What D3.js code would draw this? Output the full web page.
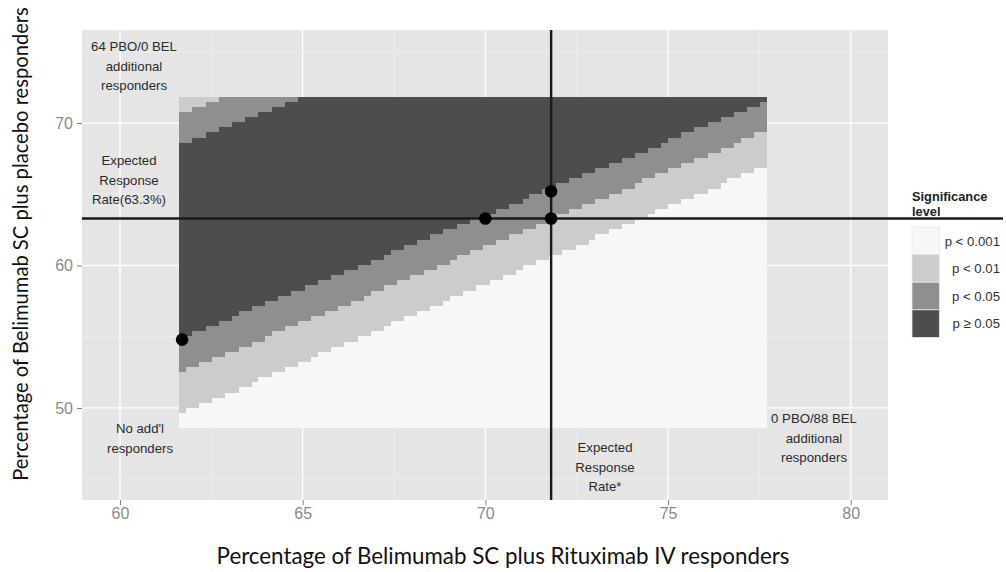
<!DOCTYPE html>
<html><head><meta charset="utf-8">
<script src="https://cdn.jsdelivr.net/npm/d3@7"></script>
<style>body{margin:0;background:#fff}svg{display:block}</style>
</head><body><svg id="c" width="1006" height="572"></svg>
<script>
// ---------- data ----------
const xTicks = [60, 65, 70, 75, 80];
const xMinor = [62.5, 67.5, 72.5, 77.5];
const yTicks = [50, 60, 70];
const yMinor = [45, 55, 65, 75];
const levels = ["p < 0.001", "p < 0.01", "p < 0.05", "p \u2265 0.05"];
const levelColors = ["#f7f7f7", "#cccccc", "#8f8f8f", "#4d4d4d"];

const belAddMax = 88;      // 0 PBO/88 BEL additional responders
const pboAddMax = 64;      // 64 PBO/0 BEL additional responders
const belBase = 61.71, belStep = 0.1808;   // % BEL responders at 0 added, % per added responder
const pboBase = 48.754, pboStep = 0.358;   // % PBO responders at 0 added, % per added responder

// for each BEL column: first PBO row of each band (bottom -> top)
const lightStart = [3,4,4,5,5,6,6,7,7,8, 8,9,10,10,11,11,12,12,13,13, 14,15,15,16,16,17,17,18,18,19,
  19,20,21,21,22,22,23,23,24,24, 25,26,26,27,27,28,28,29,29,30, 30,31,32,32,33,33,34,34,35,35,
  36,36,37,38,38,39,39,40,40,41, 41,42,43,43,44,44,45,45,46,46, 47,47,48,49,49,50,50,51,51];
const midStart = [11,12,12,13,13,14,14,15,15,16, 16,17,17,18,19,19,20,20,21,21, 22,22,23,23,24,24,25,25,26,27,
  27,28,28,29,29,30,30,31,31,32, 32,33,34,34,35,35,36,36,37,37, 38,38,39,39,40,40,41,42,42,43,
  43,44,44,45,45,46,46,47,47,48, 49,49,50,50,51,51,52,52,53,53, 54,54,55,55,56,57,57,58,58];
const darkStart = [18,18,19,19,20,20,21,21,22,23, 23,24,24,25,25,26,26,27,27,28, 28,29,29,30,30,31,31,32,32,33,
  33,34,35,35,36,36,37,37,38,38, 39,39,40,40,41,41,42,42,43,43, 44,44,45,46,46,47,47,48,48,49,
  49,50,50,51,51,52,52,53,53,54, 54,55,55,56,57,57,58,58,59,59, 60,60,61,61,62,62,63,63,64];
const upperMidStart = [56,56,57,57,58,58,59,59,60,60,61,61,62,62,63,63,64,64];
const upperLightStart = [62,62,63,63,64,64];

const pointX = [61.7, 70.0, 71.8, 71.8];
const pointY = [54.8, 63.3, 63.3, 65.2];
const expectedBel = 71.8;
const expectedPbo = 63.3;

// ---------- drawing ----------
const svg = d3.select("#c");
const P = {l: 82, r: 888, t: 30, b: 500};
const x = d3.scaleLinear().domain([58.96, 81.02]).range([P.l, P.r]);
const y = d3.scaleLinear().domain([43.54, 76.53]).range([P.b, P.t]);

svg.append("rect").attr("x", P.l).attr("y", P.t).attr("width", P.r - P.l).attr("height", P.b - P.t)
  .attr("fill", "#e5e5e5");

const grid = svg.append("g");
grid.selectAll(".xm").data(xMinor).enter().append("line")
  .attr("x1", d => x(d)).attr("x2", d => x(d)).attr("y1", P.t).attr("y2", P.b)
  .attr("stroke", "#f2f2f2").attr("stroke-width", 0.7);
grid.selectAll(".ym").data(yMinor).enter().append("line")
  .attr("y1", d => y(d)).attr("y2", d => y(d)).attr("x1", P.l).attr("x2", P.r)
  .attr("stroke", "#f2f2f2").attr("stroke-width", 0.7);
grid.selectAll(".xM").data(xTicks).enter().append("line")
  .attr("x1", d => x(d)).attr("x2", d => x(d)).attr("y1", P.t).attr("y2", P.b)
  .attr("stroke", "#ffffff").attr("stroke-width", 1.3);
grid.selectAll(".yM").data(yTicks).enter().append("line")
  .attr("y1", d => y(d)).attr("y2", d => y(d)).attr("x1", P.l).attr("x2", P.r)
  .attr("stroke", "#ffffff").attr("stroke-width", 1.3);

// tiles, grouped per BEL column into bands
const nRows = pboAddMax + 1;
const segs = [];
for (let c = 0; c <= belAddMax; c++) {
  const um = c < upperMidStart.length ? upperMidStart[c] : nRows;
  const ul = c < upperLightStart.length ? upperLightStart[c] : nRows;
  const bounds = [0, lightStart[c], midStart[c], darkStart[c], um, ul, nRows];
  const lv = [0, 1, 2, 3, 2, 1];
  for (let k = 0; k < 6; k++) {
    const r0 = Math.min(bounds[k], nRows), r1 = Math.min(bounds[k + 1], nRows);
    if (r1 > r0) segs.push({c, r0, r1, lv: lv[k]});
  }
}
svg.append("g").attr("shape-rendering", "crispEdges").selectAll("rect").data(segs).enter().append("rect")
  .attr("x", d => x(belBase + (d.c - 0.5) * belStep))
  .attr("width", d => x(belBase + (d.c + 0.5) * belStep) - x(belBase + (d.c - 0.5) * belStep) + 0.4)
  .attr("y", d => y(pboBase + (d.r1 - 0.5) * pboStep))
  .attr("height", d => y(pboBase + (d.r0 - 0.5) * pboStep) - y(pboBase + (d.r1 - 0.5) * pboStep))
  .attr("fill", d => levelColors[d.lv]);

// reference lines
svg.append("line").attr("x1", P.l).attr("x2", 1003).attr("y1", y(expectedPbo)).attr("y2", y(expectedPbo))
  .attr("stroke", "#1a1a1a").attr("stroke-width", 2.4);
svg.append("line").attr("x1", x(expectedBel)).attr("x2", x(expectedBel)).attr("y1", P.t).attr("y2", P.b)
  .attr("stroke", "#1a1a1a").attr("stroke-width", 2.4);

// points
svg.append("g").selectAll("circle").data(pointX).enter().append("circle")
  .attr("cx", d => x(d)).attr("cy", (d, i) => y(pointY[i])).attr("r", 6.3).attr("fill", "#000");

// annotations
const ann = [
  {lines: ["64 PBO/0 BEL", "additional", "responders"], x: 134, y: 51},
  {lines: ["Expected", "Response", "Rate(63.3%)"], x: 129, y: 165},
  {lines: ["No add'l", "responders"], x: 140, y: 433},
  {lines: ["Expected", "Response", "Rate*"], x: 605, y: 452},
  {lines: ["0 PBO/88 BEL", "additional", "responders"], x: 814, y: 423}
];
ann.forEach(a => {
  const t = svg.append("text").attr("text-anchor", "middle")
    .attr("font-family", "Liberation Sans, Arial, sans-serif").attr("font-size", 13.2).attr("fill", "#2b2b2b");
  a.lines.forEach((s, i) => t.append("tspan").attr("x", a.x).attr("y", a.y + i * 19.5).text(s));
});

// axes
const tickCol = "#7f7f7f";
const gx = svg.append("g").attr("transform", `translate(0,${P.b})`)
  .call(d3.axisBottom(x).tickValues(xTicks).tickSize(5).tickPadding(3).tickFormat(d3.format("d")));
gx.select(".domain").remove();
gx.selectAll("line").attr("stroke", tickCol);
gx.selectAll("text").attr("fill", "#8a8a8a").attr("font-size", 16).attr("font-family", "Liberation Sans, Arial, sans-serif");
const gy = svg.append("g").attr("transform", `translate(${P.l},0)`)
  .call(d3.axisLeft(y).tickValues(yTicks).tickSize(5).tickPadding(4).tickFormat(d3.format("d")));
gy.select(".domain").remove();
gy.selectAll("line").attr("stroke", tickCol);
gy.selectAll("text").attr("fill", "#8a8a8a").attr("font-size", 16).attr("font-family", "Liberation Sans, Arial, sans-serif");

// axis titles, fitted to the reference widths
function fit(t, w) {
  const L = t.node().getComputedTextLength();
  t.attr("font-size", 18 * w / L);
}
const xt = svg.append("text").attr("x", 503).attr("y", 564).attr("text-anchor", "middle")
  .attr("font-family", "Lato, Open Sans, sans-serif").attr("font-size", 18).attr("fill", "#111")
  .text("Percentage of Belimumab SC plus Rituximab IV responders");
fit(xt, 573);
const yt = svg.append("text").attr("transform", "translate(28,244) rotate(-90)").attr("text-anchor", "middle")
  .attr("font-family", "Lato, Open Sans, sans-serif").attr("font-size", 18).attr("fill", "#111")
  .text("Percentage of Belimumab SC plus placebo responders");
fit(yt, 474);

// legend
const lg = svg.append("g");
lg.append("text").attr("x", 912).attr("y", 201).attr("font-family", "Liberation Sans, Arial, sans-serif")
  .attr("font-weight", "bold").attr("font-size", 12.8).attr("fill", "#222")
  .selectAll("tspan").data(["Significance", "level"]).enter().append("tspan")
  .attr("x", 912).attr("dy", (d, i) => i ? 15 : 0).text(d => d);
const keyTop = 227, keyH = 27.6;
lg.selectAll("rect").data(levels).enter().append("rect")
  .attr("x", 912).attr("y", (d, i) => keyTop + i * keyH).attr("width", 27.5).attr("height", keyH)
  .attr("fill", (d, i) => levelColors[i]).attr("stroke", "#e8e8e8").attr("stroke-width", 0.8);
lg.selectAll(".lab").data(levels).enter().append("text")
  .attr("x", 1000).attr("y", (d, i) => keyTop + i * keyH + keyH / 2 + 4.8).attr("text-anchor", "end")
  .attr("font-family", "Liberation Sans, Arial, sans-serif").attr("font-size", 13.2).attr("fill", "#333")
  .text(d => d);
</script></body></html>
